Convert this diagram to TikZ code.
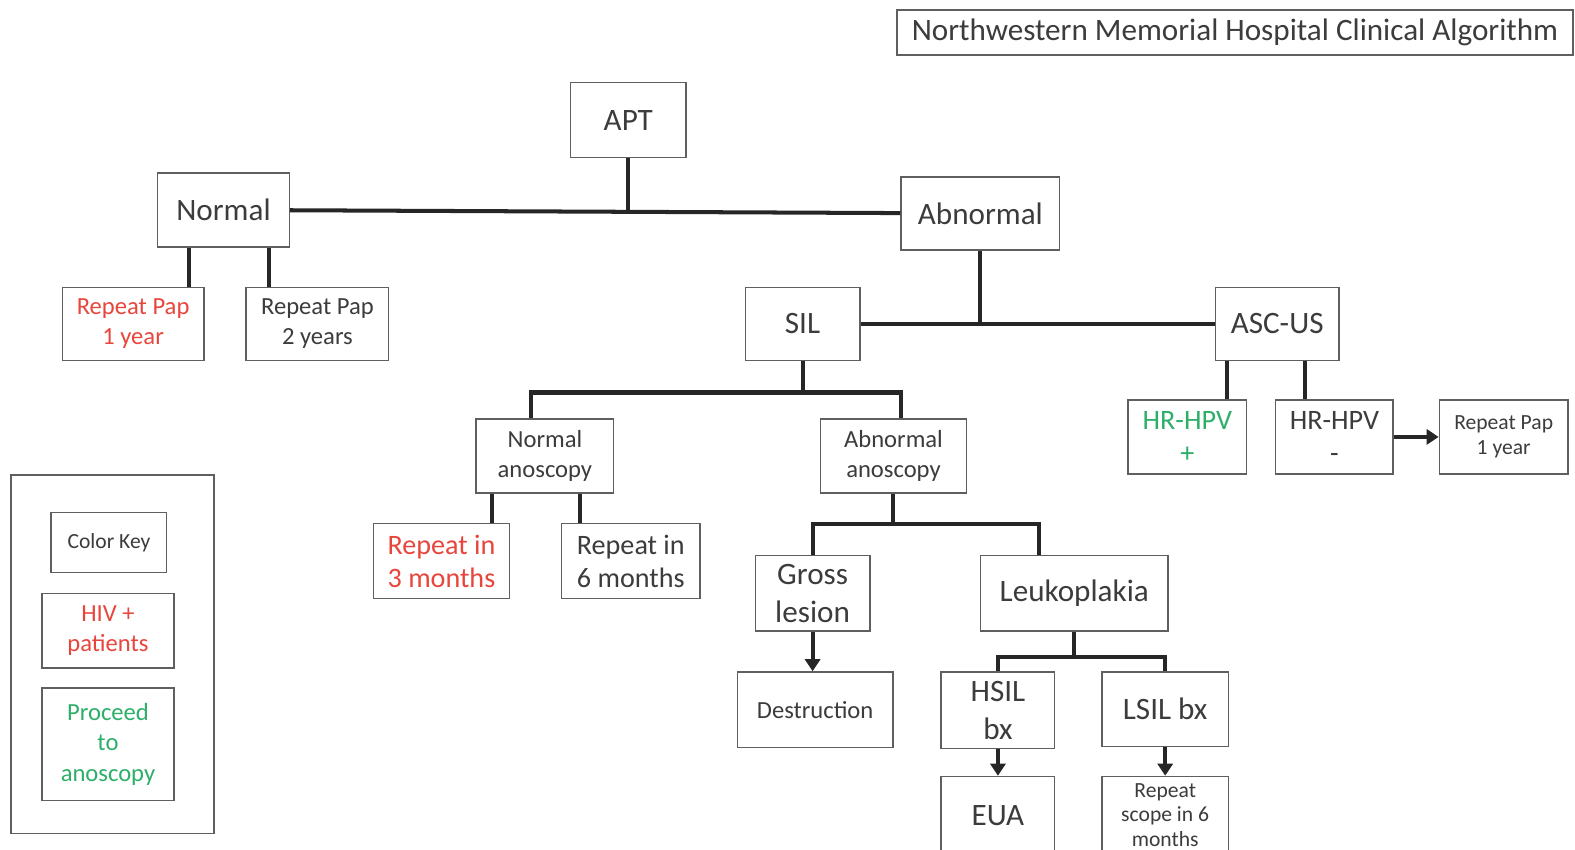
\documentclass[tikz,border=0pt]{standalone}
\usepackage{fontspec}
\setmainfont{Carlito}
\usetikzlibrary{arrows.meta}

\definecolor{boxgray}{RGB}{95,95,95}
\definecolor{txtgray}{RGB}{60,60,60}
\definecolor{keyred}{RGB}{232,70,60}
\definecolor{keygreen}{RGB}{45,175,105}

\newcommand{\fbig}{\fontsize{31}{38}\selectfont}
\newcommand{\fmid}{\fontsize{28}{33}\selectfont}
\newcommand{\fsmall}{\fontsize{24.5}{30}\selectfont}
\newcommand{\ftiny}{\fontsize{21.5}{24.5}\selectfont}

\tikzset{
  box/.style={draw=boxgray, line width=1.5pt, fill=white, align=center, text=txtgray, inner sep=2pt},
  link/.style={line width=4pt, draw=black!85},
  go/.style={link, -{Triangle[length=12pt,width=15pt]}},
}

\begin{document}
\begin{tikzpicture}[x=1pt,y=-1pt]
    \useasboundingbox (0,0) rectangle (1568,846);
    % title
    \node[box, font=\fbig, minimum width=673pt, minimum height=45pt] (title) at (1229.5,32.5) {Northwestern Memorial Hospital Clinical Algorithm};

    % top levels
    \node[box, font=\fbig, minimum width=115pt, minimum height=75pt] (apt) at (625.5,119.5) {APT};
    \node[box, font=\fbig, minimum width=131pt, minimum height=74pt] (normal) at (222.5,209) {Normal};
    \node[box, font=\fbig, minimum width=158pt, minimum height=73pt] (abnormal) at (976,212.5) {Abnormal};
    \node[box, font=\fsmall, text=keyred, minimum width=141pt, minimum height=73pt] (rpapa) at (132.5,322.5) {Repeat Pap\\1 year};
    \node[box, font=\fsmall, minimum width=142pt, minimum height=73pt] (rpapb) at (316,322.5) {Repeat Pap\\2 years};
    \node[box, font=\fbig, minimum width=114pt, minimum height=73pt] (sil) at (799,322.5) {SIL};
    \node[box, font=\fbig, minimum width=123pt, minimum height=73pt] (ascus) at (1271.5,322.5) {ASC-US};

    % ASC-US branch
    \node[box, font=\fmid, text=keygreen, minimum width=118pt, minimum height=74pt] (hpvpos) at (1182,435) {HR-HPV\\+};
    \node[box, font=\fmid, minimum width=117pt, minimum height=74pt] (hpvneg) at (1328.5,435) {HR-HPV\\-};
    \node[box, font=\ftiny, minimum width=128pt, minimum height=74pt] (rpapc) at (1497,435) {Repeat Pap\\1 year};

    % SIL branch
    \node[box, font=\fsmall, minimum width=137pt, minimum height=74pt] (nanos) at (542.5,454) {Normal\\anoscopy};
    \node[box, font=\fsmall, minimum width=145pt, minimum height=74pt] (aanos) at (889.5,454) {Abnormal\\anoscopy};
    \node[box, font=\fmid, text=keyred, minimum width=135pt, minimum height=75pt] (rthree) at (439.5,558.5) {Repeat in\\3 months};
    \node[box, font=\fmid, minimum width=138pt, minimum height=75pt] (rsix) at (628,558.5) {Repeat in\\6 months};
    \node[box, font=\fbig, minimum width=114pt, minimum height=75pt] (gross) at (809,590.5) {Gross\\lesion};
    \node[box, font=\fbig, minimum width=187pt, minimum height=75pt] (leuko) at (1069.5,590.5) {Leukoplakia};
    \node[box, font=\fsmall, minimum width=155pt, minimum height=75pt] (destr) at (811.5,706.5) {Destruction};
    \node[box, font=\fbig, minimum width=113pt, minimum height=76pt] (hsil) at (993.5,707) {HSIL\\bx};
    \node[box, font=\fbig, minimum width=126pt, minimum height=74pt] (lsil) at (1160,706) {LSIL bx};
    \node[box, font=\fbig, minimum width=113pt, minimum height=77pt] (eua) at (993.5,811.5) {EUA};
    \node[box, font=\ftiny, minimum width=126pt, minimum height=77pt] (scope) at (1160,811.5) {Repeat\\scope in 6\\months};

    % colour key
    \node[box, minimum width=202pt, minimum height=357pt] (keyframe) at (112,651.5) {};
    \node[box, font=\ftiny, minimum width=115pt, minimum height=60pt] (keyhead) at (108.5,540) {Color Key};
    \node[box, font=\fsmall, text=keyred, minimum width=131pt, minimum height=74pt] (keyhiv) at (107.5,628) {HIV +\\patients};
    \node[box, font=\fsmall, text=keygreen, minimum width=131pt, minimum height=112pt] (keyano) at (107.5,741) {Proceed\\to\\anoscopy};

    % connectors
    \draw[link] (normal) -- (abnormal);
    \draw[link] (apt.south) -- (apt.south |- normal.east);
    \coordinate (na) at ([xshift=-34.5pt]normal.south);
    \coordinate (nb) at ([xshift=45.5pt]normal.south);
    \draw[link] (na) -- (na |- rpapa.north);
    \draw[link] (nb) -- (nb |- rpapb.north);
    \draw[link] (sil) -- (ascus);
    \draw[link] (abnormal.south) -- (abnormal.south |- sil.east);
    \coordinate (aa) at ([xshift=-49.5pt]ascus.south);
    \coordinate (ab) at ([xshift=27.5pt]ascus.south);
    \draw[link] (aa) -- (aa |- hpvpos.north);
    \draw[link] (ab) -- (ab |- hpvneg.north);
    \draw[go] (hpvneg) -- (rpapc);

    \coordinate (silbus) at ([yshift=-31pt]sil.south);
    \coordinate (sa) at ([xshift=-13.5pt]nanos.north);
    \coordinate (sb) at ([xshift=7.5pt]aanos.north);
    \draw[link] (sil.south) -- (silbus) (sa) |- (silbus) -| (sb);
    \coordinate (ra) at ([xshift=-52.5pt]nanos.south);
    \coordinate (rb) at ([xshift=34.5pt]nanos.south);
    \draw[link] (ra) -- (ra |- rthree.north);
    \draw[link] (rb) -- (rb |- rsix.north);

    \coordinate (abus) at ([yshift=-30pt]aanos.south);
    \coordinate (la) at ([xshift=-35.5pt]leuko.north);
    \draw[link] (aanos.south) -- (abus) (gross.north) |- (abus) -| (la);
    \draw[go] (gross.south) -- (gross.south |- destr.north);

    \coordinate (lbus) at ([yshift=-25pt]leuko.south);
    \draw[link] (leuko.south) -- (lbus) (hsil.north) |- (lbus) -| (lsil.north);
    \draw[go] (hsil) -- (eua);
    \draw[go] (lsil) -- (scope);
\end{tikzpicture}
\end{document}
